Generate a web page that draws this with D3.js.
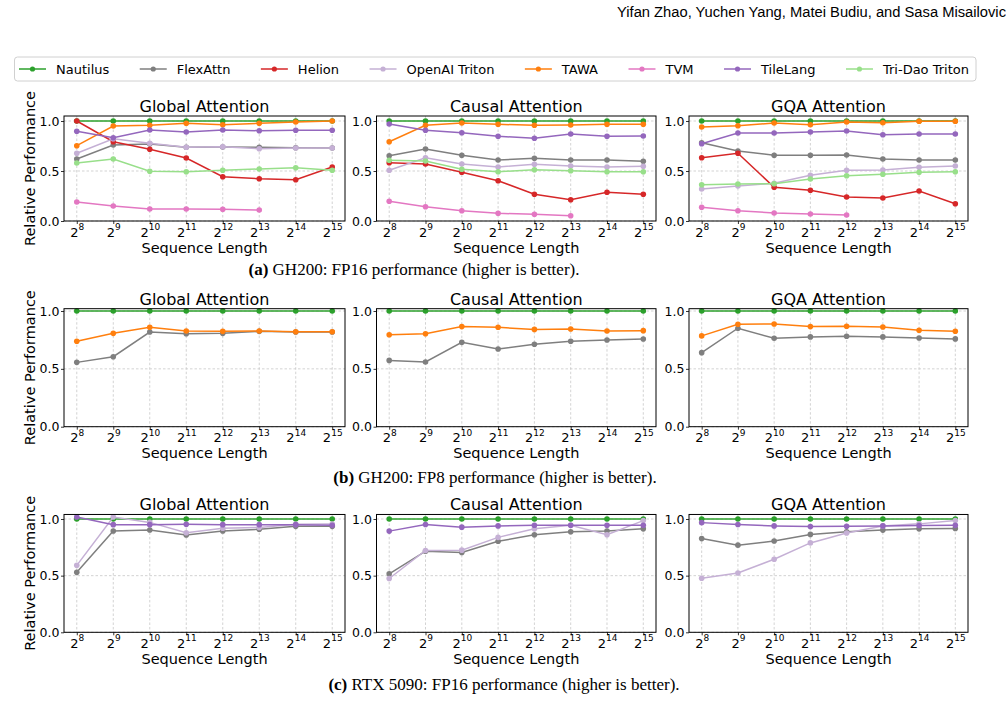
<!doctype html>
<html>
<head>
<meta charset="utf-8"/>
<script src="https://cdnjs.cloudflare.com/ajax/libs/d3/7.8.5/d3.min.js"></script>
<style>
  body { margin: 0; background: #fff; }
  svg { display: block; }
  text { font-family: "DejaVu Sans", sans-serif; fill: #000; }
</style>
</head>
<body>
<svg id="fig" width="1006" height="723"></svg>
<script>
// ---- data ----
var seqExps = [8, 9, 10, 11, 12, 13, 14, 15];
var yTicks = [0, 0.5, 1.0];
var seriesNames = ["Nautilus", "FlexAttn", "Helion", "OpenAI Triton", "TAWA", "TVM", "TileLang", "Tri-Dao Triton"];
var seriesColors = ["#2ca02c", "#7f7f7f", "#d62728", "#c5b0d5", "#ff7f0e", "#e377c2", "#9467bd", "#98df8a"];
var panelTitles = ["Global Attention", "Causal Attention", "GQA Attention"];
var rowCaptions = [
  ["(a)", " GH200: FP16 performance (higher is better)."],
  ["(b)", " GH200: FP8 performance (higher is better)."],
  ["(c)", " RTX 5090: FP16 performance (higher is better)."]
];

// rows follow seriesNames order; null = series not shown
var gh200Fp16Global = [
  [1, 1, 1, 1, 1, 1, 1, 1],
  [0.62, 0.76, 0.77, 0.737, 0.74, 0.737, 0.733, 0.73],
  [1.0, 0.793, 0.717, 0.63, 0.443, 0.423, 0.413, 0.54],
  [0.677, 0.823, 0.777, 0.737, 0.743, 0.723, 0.73, 0.73],
  [0.753, 0.95, 0.957, 0.977, 0.963, 0.977, 0.99, 1.0],
  [0.19, 0.15, 0.12, 0.12, 0.117, 0.11, null, null],
  [0.897, 0.833, 0.91, 0.89, 0.91, 0.903, 0.907, 0.907],
  [0.58, 0.62, 0.497, 0.493, 0.507, 0.52, 0.533, 0.507]
];
var gh200Fp16Causal = [
  [1, 1, 1, 1, 1, 1, 1, 1],
  [0.653, 0.72, 0.657, 0.61, 0.627, 0.61, 0.61, 0.597],
  [0.583, 0.57, 0.487, 0.403, 0.267, 0.213, 0.287, 0.267],
  [0.507, 0.633, 0.57, 0.54, 0.567, 0.55, 0.54, 0.547],
  [0.793, 0.957, 0.98, 0.967, 0.957, 0.96, 0.967, 0.967],
  [0.197, 0.143, 0.103, 0.077, 0.067, 0.053, null, null],
  [0.97, 0.907, 0.883, 0.847, 0.827, 0.87, 0.847, 0.85],
  [0.607, 0.6, 0.517, 0.493, 0.513, 0.503, 0.493, 0.493]
];
var gh200Fp16Gqa = [
  [1, 1, 1, 1, 1, 1, 1, 1],
  [0.783, 0.7, 0.657, 0.657, 0.66, 0.62, 0.61, 0.61],
  [0.633, 0.677, 0.337, 0.307, 0.24, 0.23, 0.3, 0.173],
  [0.32, 0.35, 0.377, 0.457, 0.507, 0.51, 0.537, 0.55],
  [0.94, 0.953, 0.98, 0.963, 0.99, 0.983, 0.997, 0.997],
  [0.137, 0.103, 0.08, 0.07, 0.06, null, null, null],
  [0.773, 0.88, 0.88, 0.89, 0.9, 0.863, 0.87, 0.87],
  [0.363, 0.37, 0.373, 0.42, 0.453, 0.467, 0.487, 0.493]
];
var gh200Fp8Global = [
  [1, 1, 1, 1, 1, 1, 1, 1],
  [0.556, 0.605, 0.818, 0.804, 0.807, 0.824, 0.818, 0.818],
  null, null,
  [0.738, 0.807, 0.859, 0.827, 0.824, 0.827, 0.821, 0.821],
  null, null, null
];
var gh200Fp8Causal = [
  [1, 1, 1, 1, 1, 1, 1, 1],
  [0.573, 0.559, 0.729, 0.671, 0.712, 0.738, 0.749, 0.758],
  null, null,
  [0.795, 0.804, 0.865, 0.859, 0.841, 0.844, 0.827, 0.83],
  null, null, null
];
var gh200Fp8Gqa = [
  [1, 1, 1, 1, 1, 1, 1, 1],
  [0.64, 0.851, 0.764, 0.776, 0.782, 0.776, 0.767, 0.759],
  null, null,
  [0.785, 0.885, 0.888, 0.865, 0.868, 0.862, 0.833, 0.825],
  null, null, null
];
var rtx5090Global = [
  [1, 1, 1, 1, 1, 1, 1, 1],
  [0.529, 0.894, 0.903, 0.859, 0.894, 0.909, 0.935, 0.935],
  null,
  [0.591, 1.018, 0.97, 0.879, 0.918, 0.926, 0.953, 0.956],
  null, null,
  [1.018, 0.95, 0.95, 0.953, 0.95, 0.95, 0.95, 0.944],
  null
];
var rtx5090Causal = [
  [1, 1, 1, 1, 1, 1, 1, 1],
  [0.516, 0.716, 0.704, 0.803, 0.861, 0.887, 0.893, 0.913],
  null,
  [0.475, 0.722, 0.725, 0.838, 0.913, 0.945, 0.861, 0.986],
  null, null,
  [0.893, 0.951, 0.928, 0.939, 0.945, 0.945, 0.945, 0.945],
  null
];
var rtx5090Gqa = [
  [1, 1, 1, 1, 1, 1, 1, 1],
  [0.827, 0.769, 0.806, 0.864, 0.887, 0.902, 0.913, 0.916],
  null,
  [0.477, 0.523, 0.645, 0.789, 0.876, 0.939, 0.957, 0.986],
  null, null,
  [0.968, 0.951, 0.939, 0.934, 0.936, 0.939, 0.942, 0.945],
  null
];

var rowData = [
  [gh200Fp16Global, gh200Fp16Causal, gh200Fp16Gqa],
  [gh200Fp8Global, gh200Fp8Causal, gh200Fp8Gqa],
  [rtx5090Global, rtx5090Causal, rtx5090Gqa]
];

// ---- layout ----
var svg = d3.select("#fig");
var cols = [[64, 345], [376.5, 656], [689, 968]];
var rows = [
  {bottom: 221, unit: 100, ymax: 1.05, capY: 275, capX: 414},
  {bottom: 426.7, unit: 115.7, ymax: 1.02, capY: 483, capX: 495},
  {bottom: 632.3, unit: 113.3, ymax: 1.04, capY: 690, capX: 504}
];

// header
svg.append("text")
  .attr("x", 617).attr("y", 17)
  .attr("textLength", 389).attr("lengthAdjust", "spacingAndGlyphs")
  .style("font-family", "'Liberation Sans', sans-serif")
  .style("font-size", "14px")
  .text("Yifan Zhao, Yuchen Yang, Matei Budiu, and Sasa Misailovic");

// legend
var leg = svg.append("g");
leg.append("rect")
  .attr("x", 14.5).attr("y", 57).attr("width", 961.5).attr("height", 24)
  .attr("rx", 3).attr("fill", "#fff").attr("stroke", "#d0d0d0").attr("stroke-width", 1);
var legItems = leg.selectAll("g.item").data(seriesNames).enter().append("g").attr("class", "item");
legItems.append("text")
  .attr("y", 73.5)
  .style("font-size", "13px")
  .text(function (d) { return d; });
var lx = 19;
var textW = [];
legItems.select("text").each(function () { textW.push(this.getComputedTextLength()); });
var totalText = d3.sum(textW);
var colGap = (969 - 19 - seriesNames.length * 37 - totalText) / (seriesNames.length - 1);
legItems.each(function (d, i) {
  var g = d3.select(this);
  g.append("line").attr("x1", lx).attr("x2", lx + 27).attr("y1", 69).attr("y2", 69)
    .attr("stroke", seriesColors[i]).attr("stroke-width", 1.5);
  g.append("circle").attr("cx", lx + 13.5).attr("cy", 69).attr("r", 2.6).attr("fill", seriesColors[i]);
  g.select("text").attr("x", lx + 37);
  lx += 37 + textW[i] + colGap;
});

var line = d3.line()
  .defined(function (d) { return d.v != null; })
  .x(function (d) { return d.x; })
  .y(function (d) { return d.y; });

rows.forEach(function (row, r) {
  var top = row.bottom - row.unit * row.ymax;
  var y = d3.scaleLinear().domain([0, row.ymax]).range([row.bottom, top]);

  cols.forEach(function (c, ci) {
    var x = d3.scaleLinear().domain([7.65, 15.35]).range([c[0], c[1]]);
    var g = svg.append("g");

    // grid
    g.selectAll("line.gx").data(seqExps).enter().append("line")
      .attr("x1", function (d) { return x(d); }).attr("x2", function (d) { return x(d); })
      .attr("y1", top).attr("y2", row.bottom)
      .attr("stroke", "#c8c8c8").attr("stroke-width", 0.8).attr("stroke-dasharray", "2.5,2");
    g.selectAll("line.gy").data(yTicks).enter().append("line")
      .attr("x1", c[0]).attr("x2", c[1])
      .attr("y1", function (d) { return y(d); }).attr("y2", function (d) { return y(d); })
      .attr("stroke", "#c8c8c8").attr("stroke-width", 0.8).attr("stroke-dasharray", "2.5,2");

    // axes
    var xa = g.append("g").attr("transform", "translate(0," + row.bottom + ")")
      .call(d3.axisBottom(x).tickValues(seqExps).tickSize(3).tickPadding(2));
    xa.selectAll(".tick text").each(function (d) {
      var t = d3.select(this);
      t.text(null).attr("dy", null).attr("y", 15.5).style("font-size", "13px");
      t.append("tspan").text("2");
      t.append("tspan").attr("dy", -6.5).style("font-size", "9px").text(d);
    });
    var ya = g.append("g").attr("transform", "translate(" + c[0] + ",0)")
      .call(d3.axisLeft(y).tickValues(yTicks).tickFormat(d3.format(".1f")).tickSize(3).tickPadding(1.5));
    ya.selectAll(".tick text").style("font-size", "12.5px");
    g.selectAll(".domain").remove();
    g.selectAll(".tick line").attr("stroke", "#000").attr("stroke-width", 0.8);
    g.selectAll(".tick text").attr("fill", "#000").style("font-family", "'DejaVu Sans', sans-serif");

    // series
    rowData[r][ci].forEach(function (vals, si) {
      if (!vals) return;
      var pts = vals.map(function (v, k) { return {v: v, x: x(seqExps[k]), y: v == null ? 0 : y(v)}; });
      g.append("path").attr("d", line(pts)).attr("fill", "none")
        .attr("stroke", seriesColors[si]).attr("stroke-width", 1.5);
      g.selectAll(null).data(pts.filter(function (p) { return p.v != null; })).enter().append("circle")
        .attr("cx", function (p) { return p.x; }).attr("cy", function (p) { return p.y; })
        .attr("r", 2.8).attr("fill", seriesColors[si]);
    });

    // frame
    g.append("rect").attr("x", c[0]).attr("y", top).attr("width", c[1] - c[0]).attr("height", row.bottom - top)
      .attr("fill", "none").attr("stroke", "#000").attr("stroke-width", 1);

    // titles
    g.append("text").attr("x", (c[0] + c[1]) / 2).attr("y", top - 4)
      .attr("text-anchor", "middle").style("font-size", "16px").text(panelTitles[ci]);
    g.append("text").attr("x", (c[0] + c[1]) / 2).attr("y", row.bottom + 31.5)
      .attr("text-anchor", "middle").style("font-size", "14.5px").text("Sequence Length");
    if (ci === 0) {
      g.append("text")
        .attr("transform", "translate(35," + ((top + row.bottom) / 2) + ") rotate(-90)")
        .attr("text-anchor", "middle").style("font-size", "14.5px").text("Relative Performance");
    }
  });

  // caption
  var cap = svg.append("text").attr("x", row.capX).attr("y", row.capY)
    .attr("text-anchor", "middle")
    .style("font-family", "'Liberation Serif', serif").style("font-size", "17px");
  cap.append("tspan").style("font-weight", "bold").text(rowCaptions[r][0]);
  cap.append("tspan").text(rowCaptions[r][1]);
});
</script>
</body>
</html>
